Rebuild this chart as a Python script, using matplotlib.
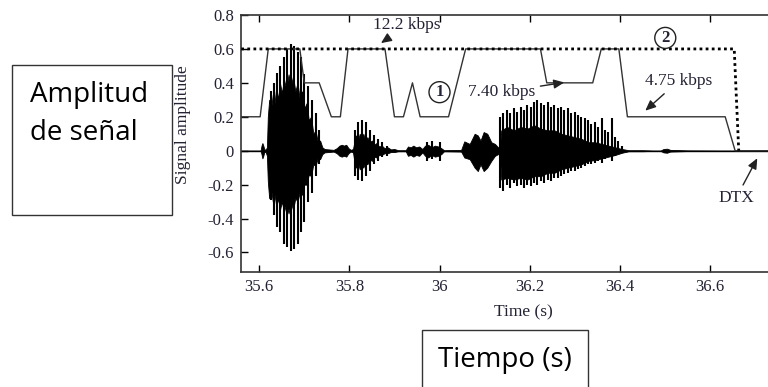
import matplotlib.pyplot as plt
from matplotlib.patches import Rectangle
import numpy as np

# ---- data ----
# coder rate curve (solid) and 12.2 kbps reference (dotted)
rate_t = [35.56, 35.602, 35.62, 35.69, 35.70, 35.733, 35.76, 35.78, 35.797, 35.879, 35.90,
          35.92, 35.94, 35.957, 36.02, 36.058, 36.224, 36.238, 36.34, 36.359, 36.398,
          36.417, 36.634, 36.656, 36.746]
rate_v = [0.2, 0.2, 0.6, 0.6, 0.4, 0.4, 0.2, 0.2, 0.6, 0.6, 0.2,
          0.2, 0.4, 0.2, 0.2, 0.6, 0.6, 0.4, 0.4, 0.6, 0.6,
          0.2, 0.2, 0.0, 0.0]
dot_t = [35.56, 36.654, 36.664]
dot_v = [0.6, 0.6, 0.0]

# speech waveform: dense body envelope, segment by segment
body_t = [35.56, 35.603, 35.605, 35.607, 35.609, 35.611, 35.614, 35.617,
          35.619, 35.622, 35.626, 35.630, 35.634, 35.638, 35.642, 35.646, 35.650, 35.655,
          35.660, 35.665, 35.670, 35.675, 35.680, 35.685, 35.690, 35.695, 35.700, 35.705,
          35.710, 35.715, 35.720, 35.725, 35.730, 35.735, 35.740, 35.745,
          35.765, 35.772, 35.778, 35.783, 35.788, 35.793, 35.798, 35.803,
          35.808, 35.811, 35.815, 35.819, 35.823, 35.827, 35.831, 35.835, 35.840, 35.845,
          35.850, 35.855, 35.860, 35.866, 35.872, 35.878, 35.885, 35.892, 35.900, 35.908,
          35.925, 35.930, 35.936, 35.942, 35.948, 35.955, 35.962, 35.968, 35.975, 35.982,
          35.990, 35.997, 36.004, 36.010,
          36.048, 36.055, 36.067, 36.078, 36.085, 36.091, 36.098, 36.106, 36.115, 36.123, 36.130,
          36.134, 36.137, 36.150, 36.165, 36.180, 36.195, 36.210, 36.225, 36.240, 36.255,
          36.270, 36.285, 36.300, 36.315, 36.330, 36.345, 36.360, 36.375, 36.390, 36.405, 36.420,
          36.450, 36.490, 36.497, 36.505, 36.512, 36.550, 36.746]
body_hi = [0, 0, 0.03, 0.045, 0.03, 0.01, 0.005, 0.02,
           0.2, 0.3, 0.24, 0.33, 0.28, 0.38, 0.3, 0.4, 0.34, 0.42,
           0.36, 0.45, 0.38, 0.44, 0.35, 0.4, 0.3, 0.35, 0.25, 0.28,
           0.18, 0.2, 0.1, 0.12, 0.05, 0.06, 0.02, 0.01,
           0.005, 0.015, 0.03, 0.035, 0.03, 0.035, 0.015, 0.005,
           0.01, 0.05, 0.09, 0.06, 0.1, 0.07, 0.1, 0.06, 0.08, 0.05,
           0.06, 0.035, 0.045, 0.025, 0.03, 0.015, 0.02, 0.008, 0.01, 0.003,
           0.003, 0.025, 0.02, 0.03, 0.02, 0.025, 0.01, 0.03, 0.035, 0.02,
           0.03, 0.025, 0.015, 0.003,
           0.005, 0.055, 0.04, 0.1, 0.09, 0.06, 0.11, 0.1, 0.05, 0.04, 0.02,
           0.02, 0.12, 0.14, 0.12, 0.14, 0.13, 0.15, 0.13, 0.12, 0.12,
           0.1, 0.09, 0.08, 0.07, 0.05, 0.05, 0.04, 0.03, 0.02, 0.01, 0.003,
           0.003, 0.0, 0.01, 0.012, 0.005, 0.002, 0]
body_lo = [0, 0, -0.02, -0.045, -0.03, -0.01, -0.005, -0.03,
           -0.18, -0.28, -0.22, -0.3, -0.26, -0.33, -0.28, -0.35, -0.3, -0.36,
           -0.31, -0.37, -0.3, -0.35, -0.28, -0.3, -0.24, -0.26, -0.2, -0.2,
           -0.14, -0.15, -0.08, -0.09, -0.04, -0.05, -0.02, -0.01,
           -0.005, -0.015, -0.03, -0.035, -0.03, -0.035, -0.015, -0.005,
           -0.01, -0.06, -0.1, -0.07, -0.11, -0.08, -0.1, -0.07, -0.08, -0.05,
           -0.06, -0.035, -0.04, -0.025, -0.025, -0.015, -0.015, -0.008, -0.008, -0.003,
           -0.003, -0.03, -0.025, -0.035, -0.025, -0.03, -0.01, -0.03, -0.04, -0.025,
           -0.035, -0.03, -0.02, -0.003,
           -0.005, -0.04, -0.05, -0.1, -0.12, -0.08, -0.12, -0.1, -0.06, -0.03, -0.02,
           -0.02, -0.17, -0.16, -0.17, -0.16, -0.17, -0.15, -0.15, -0.13, -0.13,
           -0.11, -0.1, -0.09, -0.08, -0.06, -0.055, -0.045, -0.035, -0.025, -0.012, -0.003,
           -0.003, 0.0, -0.01, -0.012, -0.005, -0.002, 0]

# pitch pulses (individual spikes)
spike_t = [35.625, 35.632, 35.640, 35.647, 35.655, 35.662, 35.670, 35.677, 35.685, 35.692,
           35.700, 35.709, 35.716, 35.726, 35.733,
           35.813, 35.820, 35.829, 35.836, 35.845, 35.854, 35.863, 35.872, 35.883,
           35.973, 35.984, 36.000,
           36.135, 36.142, 36.150, 36.157, 36.165, 36.172, 36.180, 36.187, 36.195, 36.202,
           36.210, 36.217, 36.225, 36.232, 36.240, 36.247, 36.255, 36.262, 36.270, 36.277,
           36.285, 36.292, 36.300, 36.307, 36.315, 36.322, 36.330, 36.337, 36.345, 36.352,
           36.360, 36.367, 36.375, 36.382, 36.390, 36.397, 36.405]
spike_hi = [0.35, 0.40, 0.46, 0.50, 0.55, 0.60, 0.63, 0.62, 0.58, 0.55,
            0.45, 0.38, 0.30, 0.22, 0.12,
            0.12, 0.17, 0.18, 0.17, 0.12, 0.09, 0.07, 0.05, 0.03,
            0.05, 0.06, 0.05,
            0.20, 0.22, 0.24, 0.22, 0.25, 0.23, 0.26, 0.24, 0.27, 0.26,
            0.29, 0.30, 0.28, 0.27, 0.29, 0.26, 0.27, 0.25, 0.26, 0.24,
            0.25, 0.22, 0.23, 0.21, 0.20, 0.19, 0.18, 0.16, 0.17, 0.14,
            0.19, 0.12, 0.11, 0.19, 0.08, 0.06, 0.03]
spike_lo = [-0.29, -0.38, -0.45, -0.48, -0.55, -0.57, -0.59, -0.58, -0.55, -0.48,
            -0.42, -0.30, -0.25, -0.15, -0.08,
            -0.15, -0.17, -0.18, -0.15, -0.12, -0.08, -0.06, -0.04, -0.03,
            -0.06, -0.05, -0.06,
            -0.22, -0.24, -0.20, -0.22, -0.19, -0.21, -0.20, -0.22, -0.20, -0.21,
            -0.19, -0.20, -0.18, -0.19, -0.17, -0.18, -0.16, -0.16, -0.15, -0.14,
            -0.13, -0.12, -0.12, -0.11, -0.10, -0.09, -0.08, -0.08, -0.07, -0.06,
            -0.07, -0.05, -0.04, -0.06, -0.03, -0.02, -0.01]

xticks = [35.6, 35.8, 36.0, 36.2, 36.4, 36.6]
xtick_labels = ['35.6', '35.8', '36', '36.2', '36.4', '36.6']
yticks = [-0.6, -0.4, -0.2, 0, 0.2, 0.4, 0.6, 0.8]
ytick_labels = ['-0.6', '-0.4', '-0.2', '0', '0.2', '0.4', '0.6', '0.8']

W, H = 768, 387
serif = 'Liberation Serif'
tcol = '#222233'

fig = plt.figure(figsize=(W / 100, H / 100), dpi=100)
ax = fig.add_axes([241 / W, (H - 272) / H, (W - 241) / W + 0.01, (272 - 15) / H])

# waveform
ax.axhline(0, color='black', lw=1.0, zorder=2)
ax.fill_between(body_t, body_lo, body_hi, color='black', lw=0.6, zorder=2)
ax.vlines(spike_t, spike_lo, spike_hi, color='black', lw=1.5, zorder=2)

# rate curves
ax.plot(rate_t, rate_v, color='#333333', lw=1.0, zorder=3)
ax.plot(dot_t, dot_v, color='black', lw=2.0, ls=(0, (1, 1.2)), zorder=3)

ax.set_xlim(35.5595, 36.746)
ax.set_ylim(-0.715, 0.8)
ax.set_xticks(xticks, xtick_labels)
ax.set_yticks(yticks, ytick_labels)
ax.tick_params(direction='in', length=5, width=1, top=True, right=True,
               labelsize=12, labelcolor=tcol, pad=5)
for lab in ax.get_xticklabels() + ax.get_yticklabels():
    lab.set_fontfamily(serif)
for sp in ax.spines.values():
    sp.set_linewidth(1.2)
    sp.set_color('#333333')

# annotations
akw = dict(arrowstyle='-|>,head_length=0.5,head_width=0.22', color='#222222', lw=1.0)
ax.annotate('12.2 kbps', xy=(35.865, 0.625), xytext=(35.928, 0.74), ha='center', va='center',
            fontsize=12.5, family=serif, color=tcol, arrowprops=akw)
ax.annotate('7.40 kbps', xy=(36.283, 0.405), xytext=(36.137, 0.345), ha='center', va='center',
            fontsize=12.5, family=serif, color=tcol, arrowprops=akw)
ax.annotate('4.75 kbps', xy=(36.452, 0.225), xytext=(36.53, 0.41), ha='center', va='center',
            fontsize=12.5, family=serif, color=tcol, arrowprops=akw)
ax.annotate('DTX', xy=(36.708, -0.03), xytext=(36.658, -0.28), ha='center', va='center',
            fontsize=12.5, family=serif, color=tcol, arrowprops=akw)
ax.text(36.0, 0.345, '1', ha='center', va='center', fontsize=12, fontweight='bold',
        family=serif, color=tcol, zorder=4,
        bbox=dict(boxstyle='circle,pad=0.15', fc='white', ec='#222222', lw=1.0))
ax.text(36.501, 0.665, '2', ha='center', va='center', fontsize=12, fontweight='bold',
        family=serif, color=tcol, zorder=4,
        bbox=dict(boxstyle='circle,pad=0.15', fc='white', ec='#222222', lw=1.0))

# original axis titles
fig.text(183 / W, 1 - 125 / H, 'Signal amplitude', rotation=90, ha='center', va='center',
         fontsize=12.5, family=serif, color=tcol)
fig.text(523 / W, 1 - 312 / H, 'Time (s)', ha='center', va='center',
         fontsize=12.5, family=serif, color=tcol)

# Spanish overlay boxes
fig.add_artist(Rectangle((12 / W, (H - 215) / H), 160 / W, 150 / H, transform=fig.transFigure,
                         fill=False, ec='#333333', lw=1.0))
fig.text(30 / W, 1 - 95 / H, 'Amplitud', ha='left', va='center', fontsize=20,
         family='Open Sans', color='black')
fig.text(30 / W, 1 - 133 / H, 'de señal', ha='left', va='center', fontsize=20,
         family='Open Sans', color='black')
fig.add_artist(Rectangle((422 / W, -0.05), 166 / W, (H - 330) / H + 0.05, transform=fig.transFigure,
                         fill=False, ec='#333333', lw=1.0))
fig.text(505 / W, 1 - 360 / H, 'Tiempo (s)', ha='center', va='center', fontsize=20,
         family='Open Sans', color='black')

fig.savefig('out.png', dpi=100)
